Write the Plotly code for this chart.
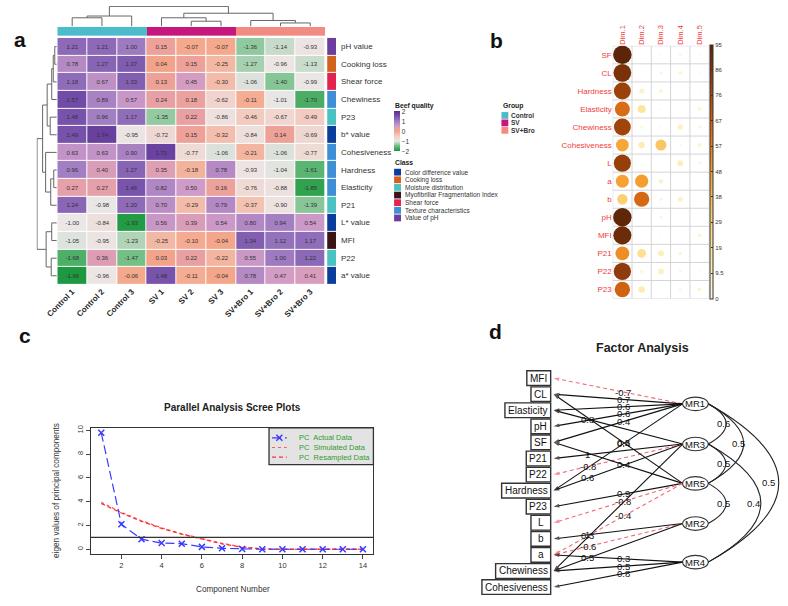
import plotly.graph_objects as go

W, H = 788, 606
FONT = "Liberation Sans, Arial, sans-serif"


def fx(p):
    return p / W


def fy(p):
    return 1 - p / H


# ================= Panel a : clustered heatmap =================
samples = ["Control 1", "Control 2", "Control 3", "SV 1", "SV 2", "SV 3",
           "SV+Bro 1", "SV+Bro 2", "SV+Bro 3"]
group_names = ["Control", "SV", "SV+Bro"]
sample_group = [0, 0, 0, 1, 1, 1, 2, 2, 2]
traits = ["pH value", "Cooking loss", "Shear force", "Chewiness", "P23", "b* value",
          "Cohesiveness", "Hardness", "Elasticity", "P21", "L* value", "MFI", "P22", "a* value"]
class_names = ["Color difference value", "Cooking loss", "Moisture distribution",
               "Myofibrillar Fragmentation Index", "Shear force", "Texture characteristics",
               "Value of pH"]
trait_class = [6, 1, 4, 5, 2, 0, 5, 5, 5, 2, 0, 3, 2, 0]
beef_z = [
    [1.21, 1.21, 1.00, 0.15, -0.07, -0.07, -1.36, -1.14, -0.93],
    [0.78, 1.27, 1.37, 0.04, 0.15, -0.25, -1.27, -0.96, -1.13],
    [1.18, 0.67, 1.33, 0.13, 0.45, -0.30, -1.06, -1.40, -0.99],
    [1.57, 0.89, 0.57, 0.24, 0.18, -0.62, -0.11, -1.01, -1.70],
    [1.48, 0.96, 1.17, -1.35, 0.22, -0.86, -0.46, -0.67, -0.49],
    [1.49, 1.74, -0.95, -0.72, 0.15, -0.32, -0.84, 0.14, -0.69],
    [0.63, 0.63, 0.90, 1.71, -0.77, -1.06, -0.21, -1.06, -0.77],
    [0.96, 0.40, 1.27, 0.35, -0.18, 0.78, -0.93, -1.04, -1.61],
    [0.27, 0.27, 1.46, 0.82, 0.50, 0.16, -0.76, -0.88, -1.85],
    [1.24, -0.98, 1.20, 0.70, -0.29, 0.79, -0.37, -0.90, -1.39],
    [-1.00, -0.84, -1.93, 0.56, 0.39, 0.54, 0.80, 0.94, 0.54],
    [-1.05, -0.95, -1.23, -0.25, -0.10, -0.04, 1.34, 1.12, 1.17],
    [-1.68, 0.36, -1.47, 0.03, 0.22, -0.22, 0.55, 1.00, 1.22],
    [-1.96, -0.96, -0.06, 1.48, -0.11, -0.04, 0.78, 0.47, 0.41],
]
# hierarchical clustering merges: (left node, right node, height)
col_merges = [(0, 1, 8.3), (9, 2, 10.0), (4, 5, 5.0), (3, 11, 8.3), (7, 8, 3.3),
              (6, 13, 5.7), (12, 14, 12.7), (10, 15, 19.3)]
row_merges = [(0, 1, 2.0), (14, 2, 3.5), (15, 3, 5.0), (4, 5, 6.5), (16, 17, 9.5),
              (7, 8, 3.0), (19, 9, 6.0), (6, 20, 11.0), (18, 21, 14.0), (10, 11, 5.0),
              (12, 13, 5.5), (23, 24, 10.5), (22, 25, 19.5)]

# ================= Panel b : PCA cos2 corrplot =================
dims = ["Dim.1", "Dim.2", "Dim.3", "Dim.4", "Dim.5"]
pca_vars = ["SF", "CL", "Hardness", "Elasticity", "Chewiness", "Cohesiveness", "L", "a", "b",
            "pH", "MFI", "P21", "P22", "P23"]
pca_cos2 = [
    [95, 0.3, 1.0, 2.0, 1.0],
    [88, 0.3, 3.0, 4.0, 1.0],
    [80, 7.0, 4.0, 0.5, 1.0],
    [63, 18.0, 1.0, 0.5, 4.0],
    [79, 2.0, 1.0, 8.0, 3.0],
    [45, 12.0, 34.0, 1.5, 5.0],
    [81, 0.5, 0.3, 10.0, 2.0],
    [47, 48.0, 6.0, 0.2, 0.5],
    [30, 64.0, 3.0, 7.0, 0.5],
    [94, 0.5, 2.0, 0.0, 0.0],
    [91, 0.5, 1.0, 0.3, 4.0],
    [53, 21.0, 10.0, 3.0, 0.3],
    [83, 3.0, 9.0, 2.0, 1.0],
    [66, 12.0, 0.8, 2.0, 4.0],
]
cos2_ticks = [0, 9.5, 19, 28.5, 38, 47.5, 57, 66.5, 76, 85.5, 95]
cos2_ticktext = ["0", "9.5", "19", "29", "38", "48", "57", "67", "76", "86", "95"]

# ================= Panel c : parallel analysis =================
components = list(range(1, 15))
actual_eig = [9.8, 2.1, 0.85, 0.52, 0.47, 0.2, 0.08, 0.02, 0.0, 0.0, 0.0, 0.0, 0.0, 0.0]
simulated_eig = [3.95, 3.1, 2.4, 1.8, 1.3, 0.9, 0.5, 0.2, 0.03, 0.01, 0.0, 0.0, 0.0, 0.0]
resampled_eig = [3.85, 3.05, 2.35, 1.75, 1.27, 0.86, 0.46, 0.16, 0.02, 0.0, 0.0, 0.0, 0.0, 0.0]

# ================= Panel d : factor analysis diagram =================
fa_vars = ["MFI", "CL", "Elasticity", "pH", "SF", "P21", "P22", "Hardness", "P23", "L", "b",
           "a", "Chewiness", "Cohesiveness"]
factors = ["MR1", "MR3", "MR5", "MR2", "MR4"]
factor_rows = [1.6, 4.1, 6.55, 9.05, 11.45]
loadings = [("MR1", "MFI", -0.7), ("MR1", "CL", 0.7), ("MR1", "Elasticity", 0.6),
            ("MR1", "pH", 0.6), ("MR1", "SF", 0.4), ("MR1", "Hardness", 0.5),
            ("MR3", "Elasticity", 0.8), ("MR3", "P21", 1.0), ("MR3", "P22", -0.8),
            ("MR3", "Hardness", 0.6), ("MR3", "Chewiness", 0.3),
            ("MR5", "CL", 0.4), ("MR5", "SF", 0.4), ("MR5", "P23", 0.9), ("MR5", "L", -0.8),
            ("MR5", "a", -0.4),
            ("MR2", "b", 1.0), ("MR2", "a", -0.6), ("MR2", "Chewiness", 0.5),
            ("MR4", "a", 0.3), ("MR4", "Chewiness", 0.5), ("MR4", "Cohesiveness", 0.8)]
factor_cors = [("MR1", "MR3", 0.6), ("MR1", "MR5", 0.5), ("MR3", "MR5", 0.5),
               ("MR5", "MR2", 0.5), ("MR3", "MR4", 0.4), ("MR1", "MR4", 0.5)]

# ---------------- styles ----------------
group_colors = ["#4cbccb", "#c8177c", "#f28b82"]
class_colors = ["#0b3d9c", "#d4621f", "#4bc2c2", "#3b1515", "#e3224d", "#3f8fd6", "#6b3d9d"]
beef_scale = [[0.0, "#17963b"], [0.125, "#6dbd81"], [0.25, "#ebe7e7"], [0.375, "#f2cdc3"],
              [0.5, "#f4a385"], [0.5625, "#e8a0a6"], [0.625, "#cf9bc8"], [0.75, "#9e7bc1"],
              [0.875, "#7551aa"], [1.0, "#5a2d91"]]
cos2_scale = [[0.0, "#fbf8e2"], [0.1, "#fdf0bf"], [0.2, "#fce59a"], [0.3, "#fbd47a"],
              [0.4, "#f9bc55"], [0.5, "#f5a031"], [0.6, "#e8801e"], [0.7, "#d06011"],
              [0.8, "#ab4a0c"], [0.9, "#85360a"], [1.0, "#5c2408"]]
RED_TXT = "#f03c3c"


def discrete_scale(colors):
    n = len(colors)
    out = []
    for k, c in enumerate(colors):
        out.append([k / n, c])
        out.append([(k + 1) / n, c])
    return out


def dendro_lines(n_leaves, merges):
    pos = {i: float(i) for i in range(n_leaves)}
    hgt = {i: 0.0 for i in range(n_leaves)}
    p_list, h_list = [], []
    for k, (a, b, h) in enumerate(merges):
        node = n_leaves + k
        p_list += [pos[a], pos[a], pos[b], pos[b], None]
        h_list += [hgt[a], h, h, hgt[b], None]
        pos[node] = (pos[a] + pos[b]) / 2
        hgt[node] = h
    return p_list, h_list


fig = go.Figure()
ann = []
shapes = []


def note(x, y, text, size, color="#333", xanchor="center", xref="paper", yref="paper", **kw):
    d = dict(x=x, y=y, xref=xref, yref=yref, text=text, showarrow=False,
             xanchor=xanchor, yanchor="middle", font=dict(size=size, color=color))
    d.update(kw)
    ann.append(d)


# ---- panel a traces ----
fig.add_trace(go.Heatmap(
    z=beef_z, x=list(range(len(samples))), y=list(range(len(traits))),
    colorscale=beef_scale, zmin=-2, zmax=2, xgap=1, ygap=1,
    texttemplate="%{z:.2f}", textfont=dict(size=6, color="#333333", family=FONT),
    colorbar=dict(x=fx(388), xanchor="left", y=fy(109), yanchor="top",
                  len=40, lenmode="pixels", thickness=6, thicknessmode="pixels",
                  xpad=0, ypad=0, outlinewidth=0, ticks="",
                  tickvals=[-2, -1, 0, 1, 2], tickfont=dict(size=6.5, color="#333", family=FONT)),
    xaxis="x", yaxis="y", hoverinfo="skip"))
fig.add_trace(go.Heatmap(
    z=[sample_group], x=list(range(len(samples))), y=[0],
    colorscale=discrete_scale(group_colors), zmin=-0.5, zmax=len(group_colors) - 0.5,
    showscale=False, xaxis="x", yaxis="y3", hoverinfo="skip"))
fig.add_trace(go.Heatmap(
    z=[[c] for c in trait_class], x=[0], y=list(range(len(traits))),
    colorscale=discrete_scale(class_colors), zmin=-0.5, zmax=len(class_colors) - 0.5,
    showscale=False, ygap=1, xaxis="x5", yaxis="y", hoverinfo="skip"))
cx, ch = dendro_lines(len(samples), col_merges)
fig.add_trace(go.Scatter(x=cx, y=ch, mode="lines", line=dict(color="#666", width=1),
                         xaxis="x", yaxis="y2", hoverinfo="skip", showlegend=False))
ry, rh = dendro_lines(len(traits), row_merges)
fig.add_trace(go.Scatter(x=rh, y=ry, mode="lines", line=dict(color="#666", width=1),
                         xaxis="x4", yaxis="y", hoverinfo="skip", showlegend=False))

for i, t in enumerate(traits):
    note(fx(332), i, t, 8, xanchor="left", yref="y")

# legends for panel a
note(fx(387), fy(104), "<b>Beef quality</b>", 6.8, "#222", xanchor="left")
note(fx(387), fy(160), "<b>Class</b>", 6.8, "#222", xanchor="left")
for k, (nm, c) in enumerate(zip(class_names, class_colors)):
    yc = 170 + k * 7.67
    shapes.append(dict(type="rect", xref="paper", yref="paper", x0=fx(388), x1=fx(395),
                       y0=fy(yc + 3.4), y1=fy(yc - 3.4), fillcolor=c, line=dict(width=0)))
    note(fx(397), fy(yc), nm, 6.5, xanchor="left")
note(fx(497), fy(104), "<b>Group</b>", 6.8, "#222", xanchor="left")
for k, (nm, c) in enumerate(zip(group_names, group_colors)):
    yc = 113 + k * 7.5
    shapes.append(dict(type="rect", xref="paper", yref="paper", x0=fx(497), x1=fx(504),
                       y0=fy(yc + 3.4), y1=fy(yc - 3.4), fillcolor=c, line=dict(width=0)))
    note(fx(505), fy(yc), "<b>" + nm + "</b>", 6.5, xanchor="left")

# ---- panel b ----
bx, by, bv = [], [], []
for r, row in enumerate(pca_cos2):
    for c, v in enumerate(row):
        bx.append(c)
        by.append(r)
        bv.append(v)
fig.add_trace(go.Scatter(
    x=bx, y=by, mode="markers",
    marker=dict(size=[18.5 * (v / 95) ** 0.5 for v in bv], color=bv, colorscale=cos2_scale,
                cmin=0, cmax=95, opacity=1, line=dict(width=0),
                colorbar=dict(x=fx(709), xanchor="left", y=fy(297), yanchor="bottom",
                              len=254, lenmode="pixels", thickness=3, thicknessmode="pixels",
                              xpad=0, ypad=0, outlinewidth=1, outlinecolor="#333",
                              tickvals=cos2_ticks, ticktext=cos2_ticktext, ticks="inside",
                              ticklen=2, tickcolor="#333",
                              tickfont=dict(size=6, color="#333", family=FONT))),
    xaxis="x6", yaxis="y6", hoverinfo="skip", showlegend=False))
for k in range(len(dims) + 1):
    shapes.append(dict(type="line", xref="x6", yref="y6", x0=k - 0.5, x1=k - 0.5,
                       y0=-0.5, y1=len(pca_vars) - 0.5, line=dict(color="#d4d4d4", width=1),
                       layer="below"))
for k in range(len(pca_vars) + 1):
    shapes.append(dict(type="line", xref="x6", yref="y6", x0=-0.5, x1=len(dims) - 0.5,
                       y0=k - 0.5, y1=k - 0.5, line=dict(color="#d4d4d4", width=1),
                       layer="below"))

# ---- panel c ----
fig.add_trace(go.Scatter(x=components, y=simulated_eig, mode="lines",
                         line=dict(color="#ff5a5a", width=1.3, dash="dot"),
                         xaxis="x7", yaxis="y7", showlegend=False, hoverinfo="skip"))
fig.add_trace(go.Scatter(x=components, y=resampled_eig, mode="lines",
                         line=dict(color="#ff3030", width=1.3, dash="4px,3px"),
                         xaxis="x7", yaxis="y7", showlegend=False, hoverinfo="skip"))
fig.add_trace(go.Scatter(x=components, y=actual_eig, mode="lines+markers",
                         line=dict(color="#3a3aff", width=1.2, dash="9px,4px"),
                         marker=dict(symbol="x-thin", size=6, line=dict(color="#3a3aff", width=1.5)),
                         xaxis="x7", yaxis="y7", showlegend=False, hoverinfo="skip"))
shapes.append(dict(type="line", xref="x7 domain", yref="y7", x0=0, x1=1, y0=1, y1=1,
                   line=dict(color="#333", width=1.3)))
# legend box (drawn manually for compact spacing)
shapes.append(dict(type="rect", xref="paper", yref="paper", x0=fx(261), x1=fx(367),
                   y0=fy(464), y1=fy(427), fillcolor="#e3e3e3",
                   line=dict(color="#333", width=1.3), layer="below"))
leg_items = [("PC  Actual Data", "#3a3aff", "9px,4px"),
             ("PC  Simulated Data", "#ff5a5a", "dot"),
             ("PC  Resampled Data", "#ff3030", "4px,3px")]
for k, (txt, col, dsh) in enumerate(leg_items):
    yc = 437 + k * 9.7
    fig.add_trace(go.Scatter(x=[264, 279], y=[yc, yc], mode="lines",
                             line=dict(color=col, width=1.2, dash=dsh),
                             xaxis="x8", yaxis="y8", showlegend=False, hoverinfo="skip"))
    note(fx(289), fy(yc), txt, 7.5, "#2f9e2f", xanchor="left")
fig.add_trace(go.Scatter(x=[271.5], y=[437], mode="markers",
                         marker=dict(symbol="x-thin", size=6, line=dict(color="#3a3aff", width=1.5)),
                         xaxis="x8", yaxis="y8", showlegend=False, hoverinfo="skip"))
note(fx(224), fy(407), "<b>Parallel Analysis Scree Plots</b>", 10, "#222")
note(fx(224), fy(589), "Component Number", 8.2)
note(fx(45), fy(490), "eigen values of principal components", 8.2, textangle=-90)

# ---- panel d ----
ARIAL_W = {"a": 556, "b": 556, "c": 500, "d": 556, "e": 556, "f": 278, "g": 556, "h": 556,
           "i": 222, "j": 222, "k": 500, "l": 222, "m": 833, "n": 556, "o": 556, "p": 556,
           "q": 556, "r": 333, "s": 500, "t": 278, "u": 556, "v": 500, "w": 722, "x": 500,
           "y": 500, "z": 500, "C": 722, "E": 667, "F": 611, "H": 722, "I": 278, "L": 556,
           "M": 833, "P": 667, "S": 667}
BOX_FONT = 10


def text_w(s, size):
    return sum(ARIAL_W.get(ch, 556) for ch in s) * size / 1000


ROW0, ROW_STEP, BOX_R = 377, 16.15, 547
FAC_X, ELL_RX, ELL_RY = 694, 13, 6.8
var_y = {v: ROW0 + i * ROW_STEP for i, v in enumerate(fa_vars)}
fac_y = {f: ROW0 + r * ROW_STEP for f, r in zip(factors, factor_rows)}
fac_idx = {f: i for i, f in enumerate(factors)}

for f, v, w in loadings:
    neg = w < 0
    col = "#f06a78" if neg else "#111"
    x0, y0 = FAC_X - ELL_RX, fac_y[f]
    x1, y1 = BOX_R + 3, var_y[v]
    fig.add_trace(go.Scatter(
        x=[x0, x1], y=[y0, y1], mode="lines+markers",
        line=dict(color=col, width=1.1, dash="4px,3px" if neg else "solid"),
        marker=dict(symbol=["circle", "arrow"], size=[0, 6], angleref="previous", color=col,
                    line=dict(width=0)),
        xaxis="x8", yaxis="y8", showlegend=False, hoverinfo="skip"))
    t = 0.45 if fac_idx[f] % 2 == 0 else 0.72
    note(x0 + t * (BOX_R - x0), y0 + t * (y1 - y0), f"{w:g}", 9.5, "#111",
         xref="x8", yref="y8")

for v in fa_vars:
    bw = max(20, text_w(v, BOX_FONT) + 7)
    shapes.append(dict(type="rect", xref="x8", yref="y8", x0=BOX_R - bw, x1=BOX_R,
                       y0=var_y[v] - 7.4, y1=var_y[v] + 7.4, fillcolor="white",
                       line=dict(color="#333", width=1.4)))
    note(BOX_R - bw / 2, var_y[v], v, BOX_FONT, "#111", xref="x8", yref="y8")

for f in factors:
    shapes.append(dict(type="circle", xref="x8", yref="y8", x0=FAC_X - ELL_RX, x1=FAC_X + ELL_RX,
                       y0=fac_y[f] - ELL_RY, y1=fac_y[f] + ELL_RY, fillcolor="white",
                       line=dict(color="#333", width=1.1)))
    note(FAC_X, fac_y[f], f, 9.5, "#111", xref="x8", yref="y8")

for fa, fb, r in factor_cors:
    ya, yb = fac_y[fa], fac_y[fb]
    xs = FAC_X + ELL_RX
    bulge = 0.45 * abs(yb - ya)
    shapes.append(dict(type="path", xref="x8", yref="y8",
                       path=f"M {xs},{ya} Q {xs + 2 * bulge},{(ya + yb) / 2} {xs},{yb}",
                       line=dict(color="#222", width=1.1)))
    note(xs + 0.86 * bulge, (ya + yb) / 2, f"{r:g}", 9.5, "#111", xref="x8", yref="y8")

note(fx(640), fy(347), "<b>Factor Analysis</b>", 12.5, "#222")

# panel letters
for letter, lx, ly in [("a", 8, 37), ("b", 492, 38), ("c", 13, 334), ("d", 491, 330)]:
    note(fx(lx), fy(ly), f"<b>{letter}</b>", 21, "#111")

hidden = dict(visible=False, showgrid=False, zeroline=False, fixedrange=True)
fig.update_layout(
    width=W, height=H, margin=dict(l=0, r=0, t=0, b=0),
    paper_bgcolor="white", plot_bgcolor="rgba(0,0,0,0)",
    font=dict(family=FONT, color="#333"), showlegend=False,
    annotations=ann, shapes=shapes,
    xaxis=dict(domain=[fx(46), fx(318)], range=[-0.5, 8.5], anchor="y", showgrid=False,
               zeroline=False, tickvals=list(range(len(samples))), ticktext=samples,
               tickangle=-45, ticks="", tickfont=dict(size=8, color="#222", weight="bold")),
    yaxis=dict(domain=[fy(283), fy(35)], range=[13.5, -0.5], anchor="x", showgrid=False,
               zeroline=False, showticklabels=False),
    yaxis2=dict(domain=[fy(23.5), fy(3)], range=[0, 19.3 * 1.02], anchor="x", **hidden),
    yaxis3=dict(domain=[fy(33), fy(24)], range=[-0.5, 0.5], anchor="x", **hidden),
    xaxis4=dict(domain=[fx(25), fx(45.5)], range=[19.5 * 1.02, 0], anchor="y", **hidden),
    xaxis5=dict(domain=[fx(320), fx(329)], range=[-0.5, 0.5], anchor="y", **hidden),
    xaxis6=dict(domain=[fx(610), fx(708)], range=[-0.5, 4.5], anchor="y6", side="top",
                showgrid=False, zeroline=False, tickvals=list(range(len(dims))), ticktext=dims,
                tickangle=-90, ticks="", tickfont=dict(size=7.5, color=RED_TXT)),
    yaxis6=dict(domain=[fy(297), fy(43)], range=[13.5, -0.5], anchor="x6", showgrid=False,
                zeroline=False, tickvals=list(range(len(pca_vars))), ticktext=pca_vars, ticks="",
                tickfont=dict(size=8, color=RED_TXT)),
    xaxis7=dict(domain=[fx(80), fx(367)], range=[0.48, 14.52], anchor="y7", showgrid=False,
                zeroline=False, tickvals=list(range(2, 15, 2)), ticks="outside", ticklen=4,
                showline=True, mirror=True, linecolor="#333", linewidth=1.2,
                tickfont=dict(size=7.5, color="#333")),
    yaxis7=dict(domain=[fy(554), fy(427)], range=[-0.42, 10.21], anchor="x7", showgrid=False,
                zeroline=False, tickvals=list(range(0, 11, 2)), ticks="outside", ticklen=4,
                tickangle=-90, showline=True, mirror=True, linecolor="#333", linewidth=1.2,
                tickfont=dict(size=7.5, color="#333")),
    xaxis8=dict(domain=[0, 1], range=[0, W], anchor="y8", **hidden),
    yaxis8=dict(domain=[0, 1], range=[H, 0], anchor="x8", **hidden),
)

fig.write_html("out.html")
